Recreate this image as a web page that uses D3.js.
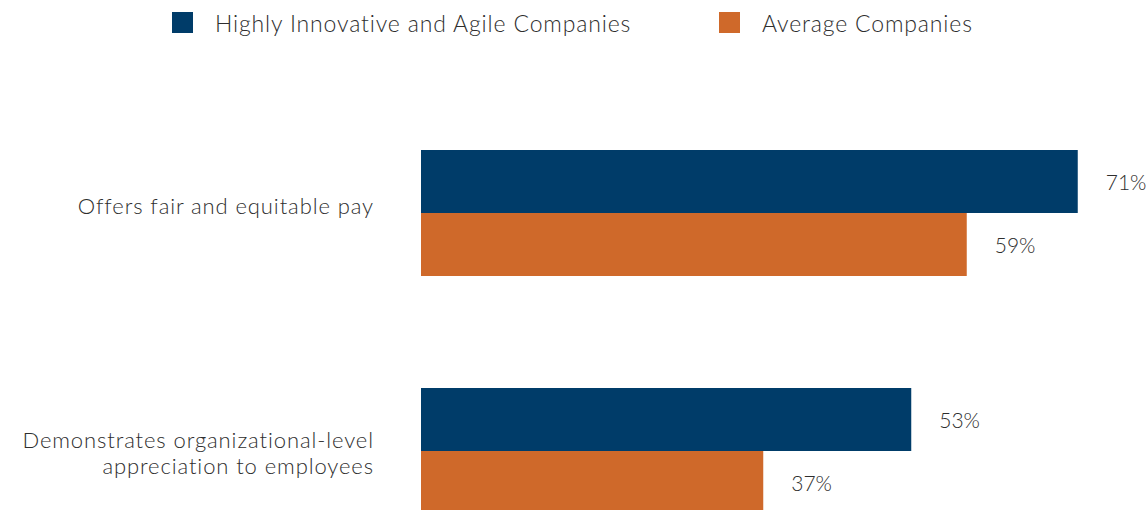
<!DOCTYPE html>
<html>
<head>
<meta charset="utf-8">
<script src="https://cdn.jsdelivr.net/npm/d3@7"></script>
<style>
  html, body { margin: 0; padding: 0; background: #fff; }
  svg { display: block; font-family: Lato, "Open Sans", sans-serif; font-weight: 300; }
</style>
</head>
<body>
<svg id="chart" width="1146" height="510"></svg>
<script>
// Survey results: share of respondents per statement
const categories = [
  ["Offers fair and equitable pay"],
  ["Demonstrates organizational-level", "appreciation to employees"]
];
const seriesNames = ["Highly Innovative and Agile Companies", "Average Companies"];
const innovativeValues = [71, 53];
const averageValues = [59, 37];
const seriesColors = ["#003c69", "#cf692a"];

const rows = categories.map((lines, i) => ({
  key: lines.join(" "),
  lines,
  values: [innovativeValues[i], averageValues[i]]
}));

const svg = d3.select("#chart");
const textColor = "#2e2e2e";

const x = d3.scaleLinear().domain([0, 100]).range([421, 1346]);
const y = d3.scaleBand()
  .domain(rows.map(d => d.key))
  .range([31, 633])
  .paddingInner(0.4706)
  .paddingOuter(0.5);
const ySub = d3.scaleBand()
  .domain(seriesNames)
  .range([0, y.bandwidth()]);

// Legend
const legend = svg.append("g").attr("class", "legend");
const legendX = [172, 719];
seriesNames.forEach((name, i) => {
  const g = legend.append("g").attr("transform", `translate(${legendX[i]},12)`);
  g.append("rect").attr("width", 21).attr("height", 21).attr("fill", seriesColors[i]);
  g.append("text")
    .attr("x", 43).attr("y", 20)
    .attr("font-size", 23)
    .attr("letter-spacing", 0.85)
    .attr("fill", textColor)
    .text(name);
});

// Bars and value labels
const groups = svg.selectAll("g.group")
  .data(rows)
  .join("g")
  .attr("class", "group")
  .attr("transform", d => `translate(0,${y(d.key)})`);

groups.selectAll("rect")
  .data(d => d.values.map((v, i) => ({ name: seriesNames[i], value: v, i })))
  .join("rect")
  .attr("x", x(0))
  .attr("y", d => ySub(d.name))
  .attr("width", d => x(d.value) - x(0))
  .attr("height", ySub.bandwidth())
  .attr("fill", d => seriesColors[d.i]);

groups.selectAll("text.value")
  .data(d => d.values.map((v, i) => ({ name: seriesNames[i], value: v, i })))
  .join("text")
  .attr("class", "value")
  .attr("x", d => x(d.value) + 28)
  .attr("y", d => ySub(d.name) + ySub.bandwidth() / 2)
  .attr("dy", "0.4em")
  .attr("font-size", 21)
  .attr("fill", textColor)
  .text(d => d.value + "%");

// Category labels, right-aligned against the bars
const labelOffset = [-7, 2];
groups.each(function (d, gi) {
  const n = d.lines.length;
  const lineH = 26;
  const t = d3.select(this).append("text")
    .attr("class", "category")
    .attr("text-anchor", "end")
    .attr("font-size", 22)
    .attr("letter-spacing", 0.9)
    .attr("fill", textColor);
  d.lines.forEach((line, li) => {
    t.append("tspan")
      .attr("x", 374)
      .attr("y", y.bandwidth() / 2 + labelOffset[gi] + (li - (n - 1) / 2) * lineH)
      .attr("dy", "0.35em")
      .text(line);
  });
});
</script>
</body>
</html>
